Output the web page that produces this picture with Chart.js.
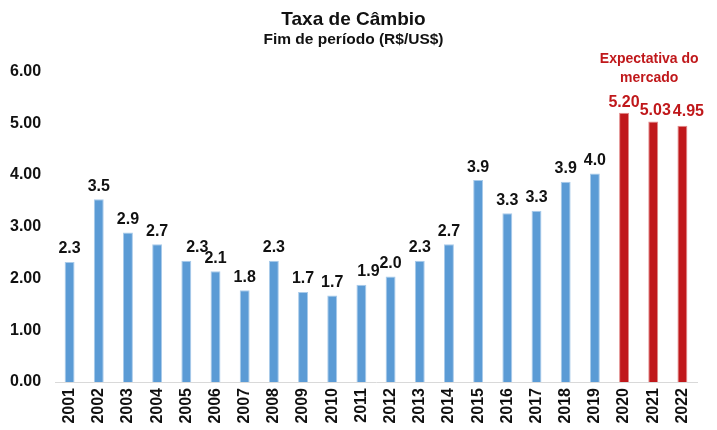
<!DOCTYPE html>
<html>
<head>
<meta charset="utf-8">
<script src="https://cdn.jsdelivr.net/npm/chart.js@4"></script>
<style>
  html, body { margin: 0; padding: 0; background: #fff; }
  #wrap { width: 717px; height: 430px; }
</style>
</head>
<body>
<div id="wrap"><canvas id="chart" width="717" height="430"></canvas></div>
<script>
// years on the x axis
const years = ["2001","2002","2003","2004","2005","2006","2007","2008","2009","2010","2011",
  "2012","2013","2014","2015","2016","2017","2018","2019","2020","2021","2022"];
// exchange rate, end of period (R$/US$)
const rates = [2.32, 3.53, 2.89, 2.66, 2.34, 2.14, 1.77, 2.34, 1.74, 1.67, 1.88,
  2.04, 2.34, 2.66, 3.90, 3.26, 3.31, 3.87, 4.03, 5.20, 5.03, 4.95];
// market expectation years (drawn red, 2 decimals)
const forecastYears = ["2020", "2021", "2022"];
// y tick values
const yTicks = [0, 1, 2, 3, 4, 5, 6];

const BLUE = "#5B9BD5";
const RED = "#C0181B";
const FONT = "'Liberation Sans', Arial, sans-serif";

const isForecast = years.map(y => forecastYears.includes(y));
// small nudges for labels that sit beside neighbours [dx, dy]
const labelShift = { "2005": [11, 0], "2011": [7, 0], "2020": [0, 3], "2021": [2, 2], "2022": [6, -1] };

// draws value labels above bars + the "Expectativa do mercado" note
const valueLabels = {
  id: "valueLabels",
  afterDatasetsDraw(chart) {
    const ctx = chart.ctx;
    const meta = chart.getDatasetMeta(0);
    ctx.save();
    ctx.font = "bold 16px " + FONT;
    ctx.textAlign = "center";
    ctx.textBaseline = "middle";
    meta.data.forEach((bar, i) => {
      const txt = isForecast[i] ? rates[i].toFixed(2) : rates[i].toFixed(1);
      const sh = labelShift[years[i]] || [0, 0];
      ctx.fillStyle = isForecast[i] ? RED : "#111";
      ctx.fillText(txt, bar.x + sh[0], bar.y - 13 + sh[1]);
    });
    // note above the forecast bars
    const xs = chart.scales.x;
    const cx = xs.getPixelForValue(years.indexOf("2021")) - 4;
    const top = chart.chartArea.top;
    ctx.font = "bold 14px " + FONT;
    ctx.fillStyle = RED;
    ctx.fillText("Expectativa do", cx, top - 12);
    ctx.fillText("mercado", cx, top + 7);
    ctx.restore();
  }
};

new Chart(document.getElementById("chart"), {
  type: "bar",
  data: {
    labels: years,
    datasets: [{
      data: rates,
      backgroundColor: isForecast.map(f => f ? RED : BLUE),
      borderColor: isForecast.map(f => f ? "#E28A8A" : "#A9CBEA"),
      borderWidth: 1,
      categoryPercentage: 1,
      barPercentage: 0.34
    }]
  },
  options: {
    responsive: false,
    animation: false,
    layout: { padding: { left: 10, right: 20, top: 0, bottom: 0 } },
    plugins: {
      legend: { display: false },
      tooltip: { enabled: false },
      title: {
        display: true,
        text: "Taxa de Câmbio",
        color: "#111",
        font: { family: FONT, size: 19, weight: "bold", lineHeight: 1.2 },
        padding: { top: 8, bottom: 0 }
      },
      subtitle: {
        display: true,
        text: "Fim de período (R$/US$)",
        color: "#111",
        font: { family: FONT, size: 15.5, weight: "bold", lineHeight: 1.2 },
        padding: { top: 0, bottom: 22 }
      }
    },
    scales: {
      x: {
        grid: { display: false, drawTicks: false },
        border: { display: true, color: "#D9D9D9", width: 1 },
        ticks: {
          color: "#111",
          font: { family: FONT, size: 16, weight: "bold" },
          minRotation: 90,
          maxRotation: 90,
          padding: 6,
          autoSkip: false
        },
        afterFit(s) { s.height = 48; }
      },
      y: {
        min: 0,
        max: 6,
        grid: { display: false, drawTicks: false },
        border: { display: false },
        afterBuildTicks(s) { s.ticks = yTicks.map(v => ({ value: v })); },
        afterFit(s) { s.width = 45; },
        ticks: {
          color: "#111",
          crossAlign: "far",
          font: { family: FONT, size: 16, weight: "bold" },
          callback: v => v.toFixed(2)
        }
      }
    }
  },
  plugins: [valueLabels]
});
</script>
</body>
</html>
